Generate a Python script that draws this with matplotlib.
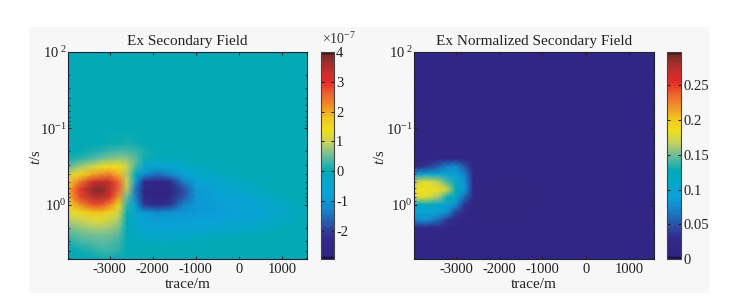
'''Ex secondary field and normalized secondary field, two panels'''
import numpy as np
import matplotlib
matplotlib.use('Agg')
import matplotlib.pyplot as plt
from matplotlib.colors import LinearSegmentedColormap
from matplotlib.patches import Rectangle

plt.rcParams['font.family'] = ['Liberation Serif', 'DejaVu Serif']
plt.rcParams['mathtext.fontset'] = 'custom'
plt.rcParams['mathtext.rm'] = 'Liberation Serif'
plt.rcParams['mathtext.it'] = 'Liberation Serif:italic'

# grid
trace = [-3970, -3700, -3400, -3200, -3000, -2800, -2600, -2400, -2200, -1900,
         -1600, -1300, -1000, -500, 0, 500, 1000, 1580]
log_t = [-2, -1, -0.8, -0.7, -0.6, -0.5, -0.4, -0.3, -0.2, -0.1,
         0, 0.1, 0.2, 0.3, 0.4, 0.5, 0.6, 0.71]

# left panel, in units of 1e-7
secondary = [
    [0, 0, 0, 0, 0, 0, 0, 0, 0, 0, 0, 0, 0, 0, 0, 0, 0, 0],
    [0, 0, 0, 0, 0, 0, 0, 0, 0, 0, 0, 0, 0, 0, 0, 0, 0, 0],
    [0, 0, 0, 0.02, 0.05, 0.08, 0.1, 0.08, 0.02, 0, 0, 0, 0, 0, 0, 0, 0, 0],
    [0, 0.03, 0.1, 0.18, 0.28, 0.35, 0.35, 0.3, 0.12, 0, 0, 0, 0, 0, 0, 0, 0, 0],
    [0.12, 0.2, 0.38, 0.55, 0.65, 0.7, 0.65, 0.45, 0.05, -0.12, -0.1, -0.03, 0, 0, 0, 0, 0, 0],
    [0.45, 0.75, 1.05, 1.3, 1.4, 1.35, 1.0, 0.35, -0.4, -0.7, -0.55, -0.3, -0.15, -0.03, 0, 0, 0, 0],
    [1.05, 1.45, 1.95, 2.2, 2.3, 1.9, 0.9, -0.15, -1.1, -1.5, -1.2, -0.75, -0.4, -0.15, -0.03, 0, 0, 0],
    [1.6, 2.4, 3.2, 3.4, 3.2, 2.6, 1.0, -0.9, -2.25, -2.5, -2.35, -1.35, -0.8, -0.45, -0.2, -0.03, 0, 0],
    [1.9, 2.9, 3.7, 3.8, 3.4, 2.6, 0.9, -1.4, -2.55, -2.7, -2.6, -1.9, -0.95, -0.65, -0.4, -0.12, 0, 0],
    [1.9, 2.8, 3.5, 3.5, 3.1, 2.2, 0.5, -1.35, -2.5, -2.7, -2.55, -1.8, -1.0, -0.8, -0.65, -0.4, -0.05, 0],
    [1.6, 2.2, 2.7, 2.7, 2.3, 1.6, 0.2, -0.9, -2.1, -2.35, -2.1, -1.3, -1.0, -0.9, -0.8, -0.6, -0.25, 0],
    [1.2, 1.5, 1.8, 1.8, 1.6, 1.1, 0.05, -0.6, -1.0, -1.2, -1.1, -1.0, -0.95, -0.9, -0.85, -0.7, -0.35, -0.02],
    [0.9, 1.0, 1.2, 1.2, 1.05, 0.8, 0.03, -0.5, -0.8, -0.9, -0.9, -0.9, -0.88, -0.85, -0.75, -0.55, -0.2, 0],
    [0.6, 0.7, 0.8, 0.8, 0.75, 0.6, 0.02, -0.35, -0.6, -0.75, -0.75, -0.7, -0.65, -0.6, -0.45, -0.25, -0.05, 0],
    [0.35, 0.5, 0.55, 0.55, 0.55, 0.45, 0.01, -0.15, -0.3, -0.4, -0.4, -0.35, -0.25, -0.12, -0.03, 0, 0, 0],
    [0.12, 0.3, 0.4, 0.42, 0.4, 0.3, 0.01, -0.05, -0.1, -0.12, -0.1, -0.06, -0.03, 0, 0, 0, 0, 0],
    [0.02, 0.08, 0.18, 0.28, 0.28, 0.2, 0.01, 0, 0, 0, 0, 0, 0, 0, 0, 0, 0, 0],
    [0, 0, 0.02, 0.05, 0.05, 0.03, 0, 0, 0, 0, 0, 0, 0, 0, 0, 0, 0, 0],
]

# right panel
normalized = [
    [0.012] * 18,
    [0.012] * 18,
    [0.012] * 18,
    [0.012] * 18,
    [0.012, 0.013, 0.014, 0.016, 0.018, 0.016, 0.012, 0.012, 0.012, 0.012, 0.012, 0.012, 0.012, 0.012, 0.012, 0.012, 0.012, 0.012],
    [0.02, 0.035, 0.055, 0.07, 0.075, 0.05, 0.014, 0.012, 0.012, 0.012, 0.012, 0.012, 0.012, 0.012, 0.012, 0.012, 0.012, 0.012],
    [0.085, 0.095, 0.1, 0.1, 0.095, 0.07, 0.02, 0.012, 0.012, 0.012, 0.012, 0.012, 0.012, 0.012, 0.012, 0.012, 0.012, 0.012],
    [0.165, 0.18, 0.165, 0.14, 0.105, 0.08, 0.02, 0.012, 0.012, 0.011, 0.011, 0.012, 0.012, 0.012, 0.012, 0.012, 0.012, 0.012],
    [0.185, 0.185, 0.185, 0.17, 0.125, 0.085, 0.02, 0.012, 0.01, 0.009, 0.009, 0.011, 0.012, 0.012, 0.012, 0.012, 0.012, 0.012],
    [0.175, 0.18, 0.16, 0.13, 0.105, 0.06, 0.018, 0.012, 0.01, 0.008, 0.008, 0.011, 0.013, 0.013, 0.012, 0.012, 0.012, 0.012],
    [0.11, 0.12, 0.105, 0.1, 0.075, 0.035, 0.015, 0.012, 0.01, 0.008, 0.008, 0.011, 0.014, 0.015, 0.014, 0.013, 0.012, 0.012],
    [0.1, 0.1, 0.095, 0.08, 0.04, 0.022, 0.014, 0.012, 0.01, 0.009, 0.009, 0.012, 0.015, 0.016, 0.016, 0.014, 0.012, 0.012],
    [0.07, 0.08, 0.06, 0.035, 0.022, 0.015, 0.013, 0.012, 0.011, 0.01, 0.01, 0.013, 0.015, 0.016, 0.015, 0.013, 0.012, 0.012],
    [0.03, 0.03, 0.022, 0.02, 0.016, 0.014, 0.012, 0.012, 0.012, 0.012, 0.012, 0.014, 0.015, 0.015, 0.014, 0.012, 0.012, 0.012],
    [0.016, 0.015, 0.014, 0.014, 0.013, 0.012, 0.012, 0.012, 0.012, 0.013, 0.013, 0.014, 0.014, 0.013, 0.012, 0.012, 0.012, 0.012],
    [0.012] * 18,
    [0.012] * 18,
    [0.012] * 18,
]

cmap_stops = [(0.0, '#1a0f50'), (0.012, '#30247f'), (0.1, '#332a8c'), (0.16, '#2c50a4'),
              (0.24, '#1486cc'), (0.3, '#0aa2d8'), (0.38, '#04a8c8'), (0.425, '#03a9b5'),
              (0.5, '#6cbd9a'), (0.56, '#c4d060'), (0.62, '#eee01e'), (0.68, '#f2c81e'),
              (0.72, '#f0a025'), (0.79, '#ee6a30'), (0.86, '#e42a28'), (0.93, '#b4302e'),
              (0.985, '#7c2a28'), (1.0, '#401410')]
field_cmap = LinearSegmentedColormap.from_list('field', cmap_stops, N=128)

W, H = 740, 303


def px_box(x0, y0, x1, y1):
    # pixel box (y down) to figure fraction
    return [x0 / W, 1 - y1 / H, (x1 - x0) / W, (y1 - y0) / H]


def draw_panel(fig, box, cbox, values, vmin, vmax, title, cticks, clabels, ylab_x):
    ax = fig.add_axes(px_box(*box))
    t = 10.0 ** np.array(log_t)
    mesh = ax.pcolormesh(trace, t, np.array(values), cmap=field_cmap, vmin=vmin, vmax=vmax,
                         shading='gouraud', rasterized=True)
    ax.set_yscale('log')
    ax.set_xlim(trace[0], trace[-1])
    ax.set_ylim(t[-1], t[0])
    ax.set_xticks([-3000, -2000, -1000, 0, 1000])
    ax.set_xticklabels(['-3000', '-2000', '-1000', '0', '1000'])
    ax.set_yticks([0.01, 0.1, 1])
    # the minus of the top label is lost in the scan
    ax.set_yticklabels(['$\\mathregular{10^{\\ 2}}$', '$\\mathregular{10^{-1}}$', '$\\mathregular{10^{0}}$'])
    ax.tick_params(which='major', direction='in', length=2.5, width=0.7, top=True, right=True,
                   labelsize=10.5, colors='#222222', pad=3)
    ax.tick_params(axis='y', which='major', pad=1)
    ax.tick_params(which='minor', direction='in', length=1.5, width=0.5, top=True, right=True,
                   labelleft=False, colors='#222222')
    for s in ax.spines.values():
        s.set_linewidth(0.8)
        s.set_color('#222233')
    ax.set_title(title, fontsize=11, pad=5, color='#222222')
    ax.set_xlabel('trace/m', fontsize=11, labelpad=1.5, color='#222222')
    ax.set_ylabel('$\\mathit{t}$/s', fontsize=10.5, color='#222222')
    ax.yaxis.set_label_coords(ylab_x, 0.49)

    cax = fig.add_axes(px_box(*cbox))
    cb = fig.colorbar(mesh, cax=cax)
    cb.set_ticks(cticks)
    cb.set_ticklabels(clabels)
    cax.tick_params(direction='in', length=2, width=0.8, left=True, right=True,
                    labelsize=10.5, colors='#222222', pad=1.5)
    cb.outline.set_linewidth(0.8)
    cb.outline.set_edgecolor('#444444')
    return ax


fig = plt.figure(figsize=(W / 100, H / 100), dpi=100, facecolor='white')
# pale grey backing of the scanned page
fig.patches.append(Rectangle((29 / W, 1 - 293 / H), 680 / W, 266 / H, transform=fig.transFigure,
                             facecolor='#f7f7f7', edgecolor='none', zorder=-5))

draw_panel(fig, (68, 52, 307, 259), (321, 52, 334, 259), secondary, -2.95, 4.0,
           'Ex Secondary Field', [-2, -1, 0, 1, 2, 3, 4], ['-2', '-1', '0', '1', '2', '3', '4'], -0.105)
draw_panel(fig, (414, 52, 654, 259), (667, 52, 681, 259), normalized, 0, 0.298,
           'Ex Normalized Secondary Field', [0, 0.05, 0.1, 0.15, 0.2, 0.25],
           ['0', '0.05', '0.1', '0.15', '0.2', '0.25'], -0.112)

fig.text(322 / W, 1 - 44 / H, '×10$^{-7}$', fontsize=10, color='#333333')

plt.savefig('out.png', dpi=100, facecolor=fig.get_facecolor())
